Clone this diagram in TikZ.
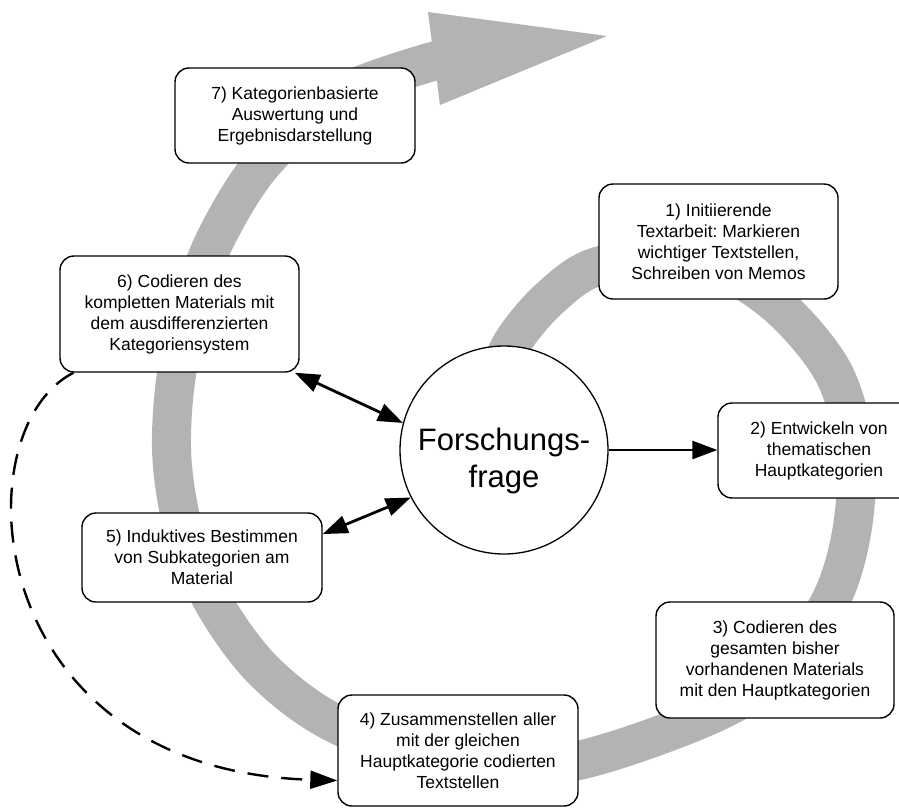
\documentclass[tikz,border=0pt]{standalone}
\usepackage{fontspec}
\setmainfont{Liberation Sans}
\frenchspacing
\usetikzlibrary{arrows.meta}
\definecolor{bandgray}{RGB}{179,179,179}
\tikzset{
  stepbox/.style={draw, line width=1.4pt, rounded corners=14pt, fill=white, inner sep=0pt,
    align=center, minimum width=240pt, font=\fontsize{17.5}{21}\selectfont},
  band/.style={draw=bandgray, line width=39pt},
  link/.style={line width=2.8pt, -{Triangle[length=25pt,width=18pt]}},
  twolink/.style={line width=2.8pt, {Triangle[length=25pt,width=18pt]}-{Triangle[length=25pt,width=18pt]}},
  backlink/.style={line width=2.4pt, dash pattern=on 21pt off 13pt, -{Triangle[length=27pt,width=18pt]}}
}
\begin{document}
\begin{tikzpicture}[x=1pt,y=-1pt]
  \clip (0,0) rectangle (899,807);
  \draw[band] plot[smooth, tension=0.55] coordinates {(490,400) (511,345) (550,298) (599,266)
    (690,258) (770,299) (832,370) (855,450) (852,530) (830,602) (780,670) (710,715)
    (576,761) (460,768) (338,725) (265,672) (215,605) (185,535) (172,460)
    (175,385) (190,310) (215,240) (263,163) (340,95) (445,58)};
  \fill[bandgray] (428,12) -- (607,36) -- (440,105) -- cycle;
  \node[stepbox, minimum width=239pt, minimum height=115pt] (s1) at (718.5,241.5)
    {1) Initiierende\\Textarbeit: Markieren\\wichtiger Textstellen,\\Schreiben von Memos};
  \node[stepbox, minimum width=202pt, minimum height=95pt] (s2) at (819,450.5)
    {2) Entwickeln von\\thematischen\\Hauptkategorien};
  \node[stepbox, minimum width=238pt, minimum height=116pt] (s3) at (775,660)
    {3) Codieren des\\gesamten bisher\\vorhandenen Materials\\mit den Hauptkategorien};
  \node[stepbox, minimum height=111pt] (s4) at (458,750.5)
    {4) Zusammenstellen aller\\mit der gleichen\\Hauptkategorie codierten\\Textstellen};
  \node[stepbox, minimum height=89pt] (s5) at (202,557.5)
    {5) Induktives Bestimmen\\von Subkategorien am\\Material};
  \node[stepbox, minimum width=239pt, minimum height=116pt] (s6) at (179.5,314)
    {6) Codieren des\\kompletten Materials mit\\dem ausdifferenzierten\\Kategoriensystem};
  \node[stepbox, minimum height=95pt] (s7) at (295,115.5)
    {7) Kategorienbasierte\\Auswertung und\\Ergebnisdarstellung};
  \node[draw, circle, line width=1.3pt, fill=white, inner sep=0pt, minimum size=208pt] (frage) at (504,450) {};
  \node[align=center, inner sep=0pt, font=\fontsize{31}{37}\selectfont] (fragetext)
    at ([yshift=-10.5pt]frage.center) {Forschungs-\\frage};
  \draw[link] (frage.east) -- (s2.west |- frage.east);
  \draw[twolink] (s6.-27) -- (frage.165);
  \draw[twolink] (s5.11) -- (frage.207);
  \draw[backlink] (s6.209) .. controls (-40,430) and (-20,770) .. ([yshift=-30pt]s4.west);
\end{tikzpicture}
\end{document}
